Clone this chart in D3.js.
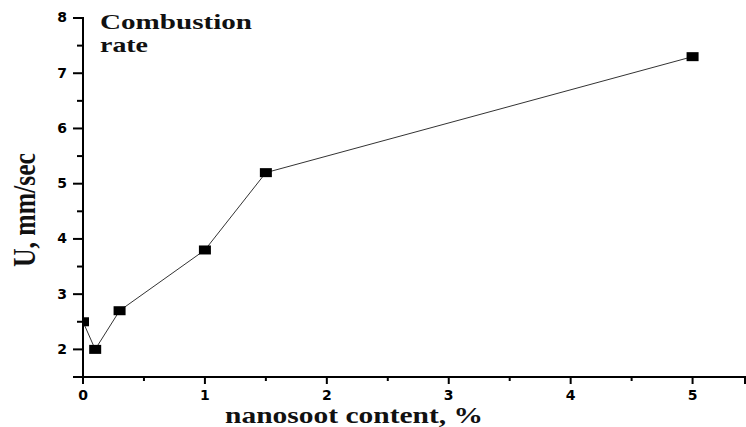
<!DOCTYPE html>
<html>
<head>
<meta charset="utf-8">
<script src="https://cdn.jsdelivr.net/npm/d3@7"></script>
<style>
  body { margin: 0; background: #fff; }
  svg { display: block; }
</style>
</head>
<body>
<div id="chart"></div>
<script>
// combustion rate vs nanosoot content
const content = [0, 0.1, 0.3, 1, 1.5, 5]
const rate = [2.5, 2.0, 2.7, 3.8, 5.2, 7.3]
const xTicks = [0, 1, 2, 3, 4, 5]
const xMinor = [0.5, 1.5, 2.5, 3.5, 4.5]
const yTicks = [2, 3, 4, 5, 6, 7, 8]
const yMinor = [1.5, 2.5, 3.5, 4.5, 5.5, 6.5, 7.5]

const width = 746, height = 427
const margin = {top: 18, right: 1, bottom: 50, left: 83}

const svg = d3.select('#chart').append('svg')
    .attr('width', width)
    .attr('height', height)

const x = d3.scaleLinear()
    .domain([0, 5.43])
    .range([margin.left, width - margin.right])

const y = d3.scaleLinear()
    .domain([1.5, 8])
    .range([height - margin.bottom, margin.top])

svg.append('defs').append('clipPath').attr('id', 'plot')
    .append('rect')
    .attr('x', margin.left).attr('y', 0)
    .attr('width', width - margin.left).attr('height', height - margin.bottom)

// line + square markers
const line = d3.line().x((d, i) => x(content[i])).y(d => y(d))
const g = svg.append('g').attr('clip-path', 'url(#plot)')
g.append('path')
    .datum(rate)
    .attr('d', line)
    .attr('fill', 'none')
    .attr('stroke', '#333')
    .attr('stroke-width', 1)
g.selectAll('rect.pt')
    .data(rate)
    .join('rect')
    .attr('class', 'pt')
    .attr('x', (d, i) => x(content[i]) - 6)
    .attr('y', d => y(d) - 4.5)
    .attr('width', 12)
    .attr('height', 9)
    .attr('fill', '#000')

// axes
svg.append('g')
    .attr('transform', `translate(0,${height - margin.bottom})`)
    .call(d3.axisBottom(x).tickValues(xTicks).tickFormat(d3.format('d')).tickSizeOuter(0).tickSize(7).tickPadding(6).offset(0))
svg.append('g')
    .attr('transform', `translate(0,${height - margin.bottom})`)
    .call(d3.axisBottom(x).tickValues(xMinor).tickFormat('').tickSizeOuter(0).tickSize(4).offset(0))
    .select('.domain').remove()

svg.append('g')
    .attr('transform', `translate(${margin.left},0)`)
    .call(d3.axisLeft(y).tickValues(yTicks).tickFormat(d3.format('d')).tickSizeOuter(0).tickSize(10).tickPadding(6).offset(0))
svg.append('g')
    .attr('transform', `translate(${margin.left},0)`)
    .call(d3.axisLeft(y).tickValues(yMinor).tickFormat('').tickSizeOuter(0).tickSize(6).offset(0))
    .select('.domain').remove()

svg.selectAll('.domain').attr('stroke', '#000').attr('stroke-width', 2)
svg.selectAll('.tick line').attr('stroke', '#000').attr('stroke-width', 2)
svg.selectAll('.tick text')
    .attr('fill', '#000')
    .style('font-family', 'DejaVu Sans, sans-serif')
    .style('font-weight', 'bold')
    .style('font-size', '14px')

// titles
const serif = 'Liberation Serif, Times New Roman, serif'

svg.append('text')
    .attr('x', 354).attr('y', 423)
    .attr('text-anchor', 'middle')
    .attr('textLength', 258)
    .attr('lengthAdjust', 'spacingAndGlyphs')
    .style('font-family', serif)
    .style('font-weight', 'bold')
    .style('font-size', '24px')
    .attr('fill', '#111')
    .text('nanosoot content, %')

svg.append('text')
    .attr('transform', 'translate(35,210) scale(1.3,1) rotate(-90)')
    .attr('text-anchor', 'middle')
    .attr('textLength', 114)
    .attr('lengthAdjust', 'spacingAndGlyphs')
    .style('font-family', serif)
    .style('font-weight', 'bold')
    .style('font-size', '25px')
    .attr('fill', '#111')
    .text('U, mm/sec')

svg.append('text')
    .attr('x', 100).attr('y', 29)
    .attr('textLength', 152)
    .attr('lengthAdjust', 'spacingAndGlyphs')
    .style('font-family', serif)
    .style('font-weight', 'bold')
    .style('font-size', '21px')
    .attr('fill', '#111')
    .text('Combustion')
svg.append('text')
    .attr('x', 100).attr('y', 52)
    .attr('textLength', 48)
    .attr('lengthAdjust', 'spacingAndGlyphs')
    .style('font-family', serif)
    .style('font-weight', 'bold')
    .style('font-size', '22px')
    .attr('fill', '#111')
    .text('rate')
</script>
</body>
</html>
